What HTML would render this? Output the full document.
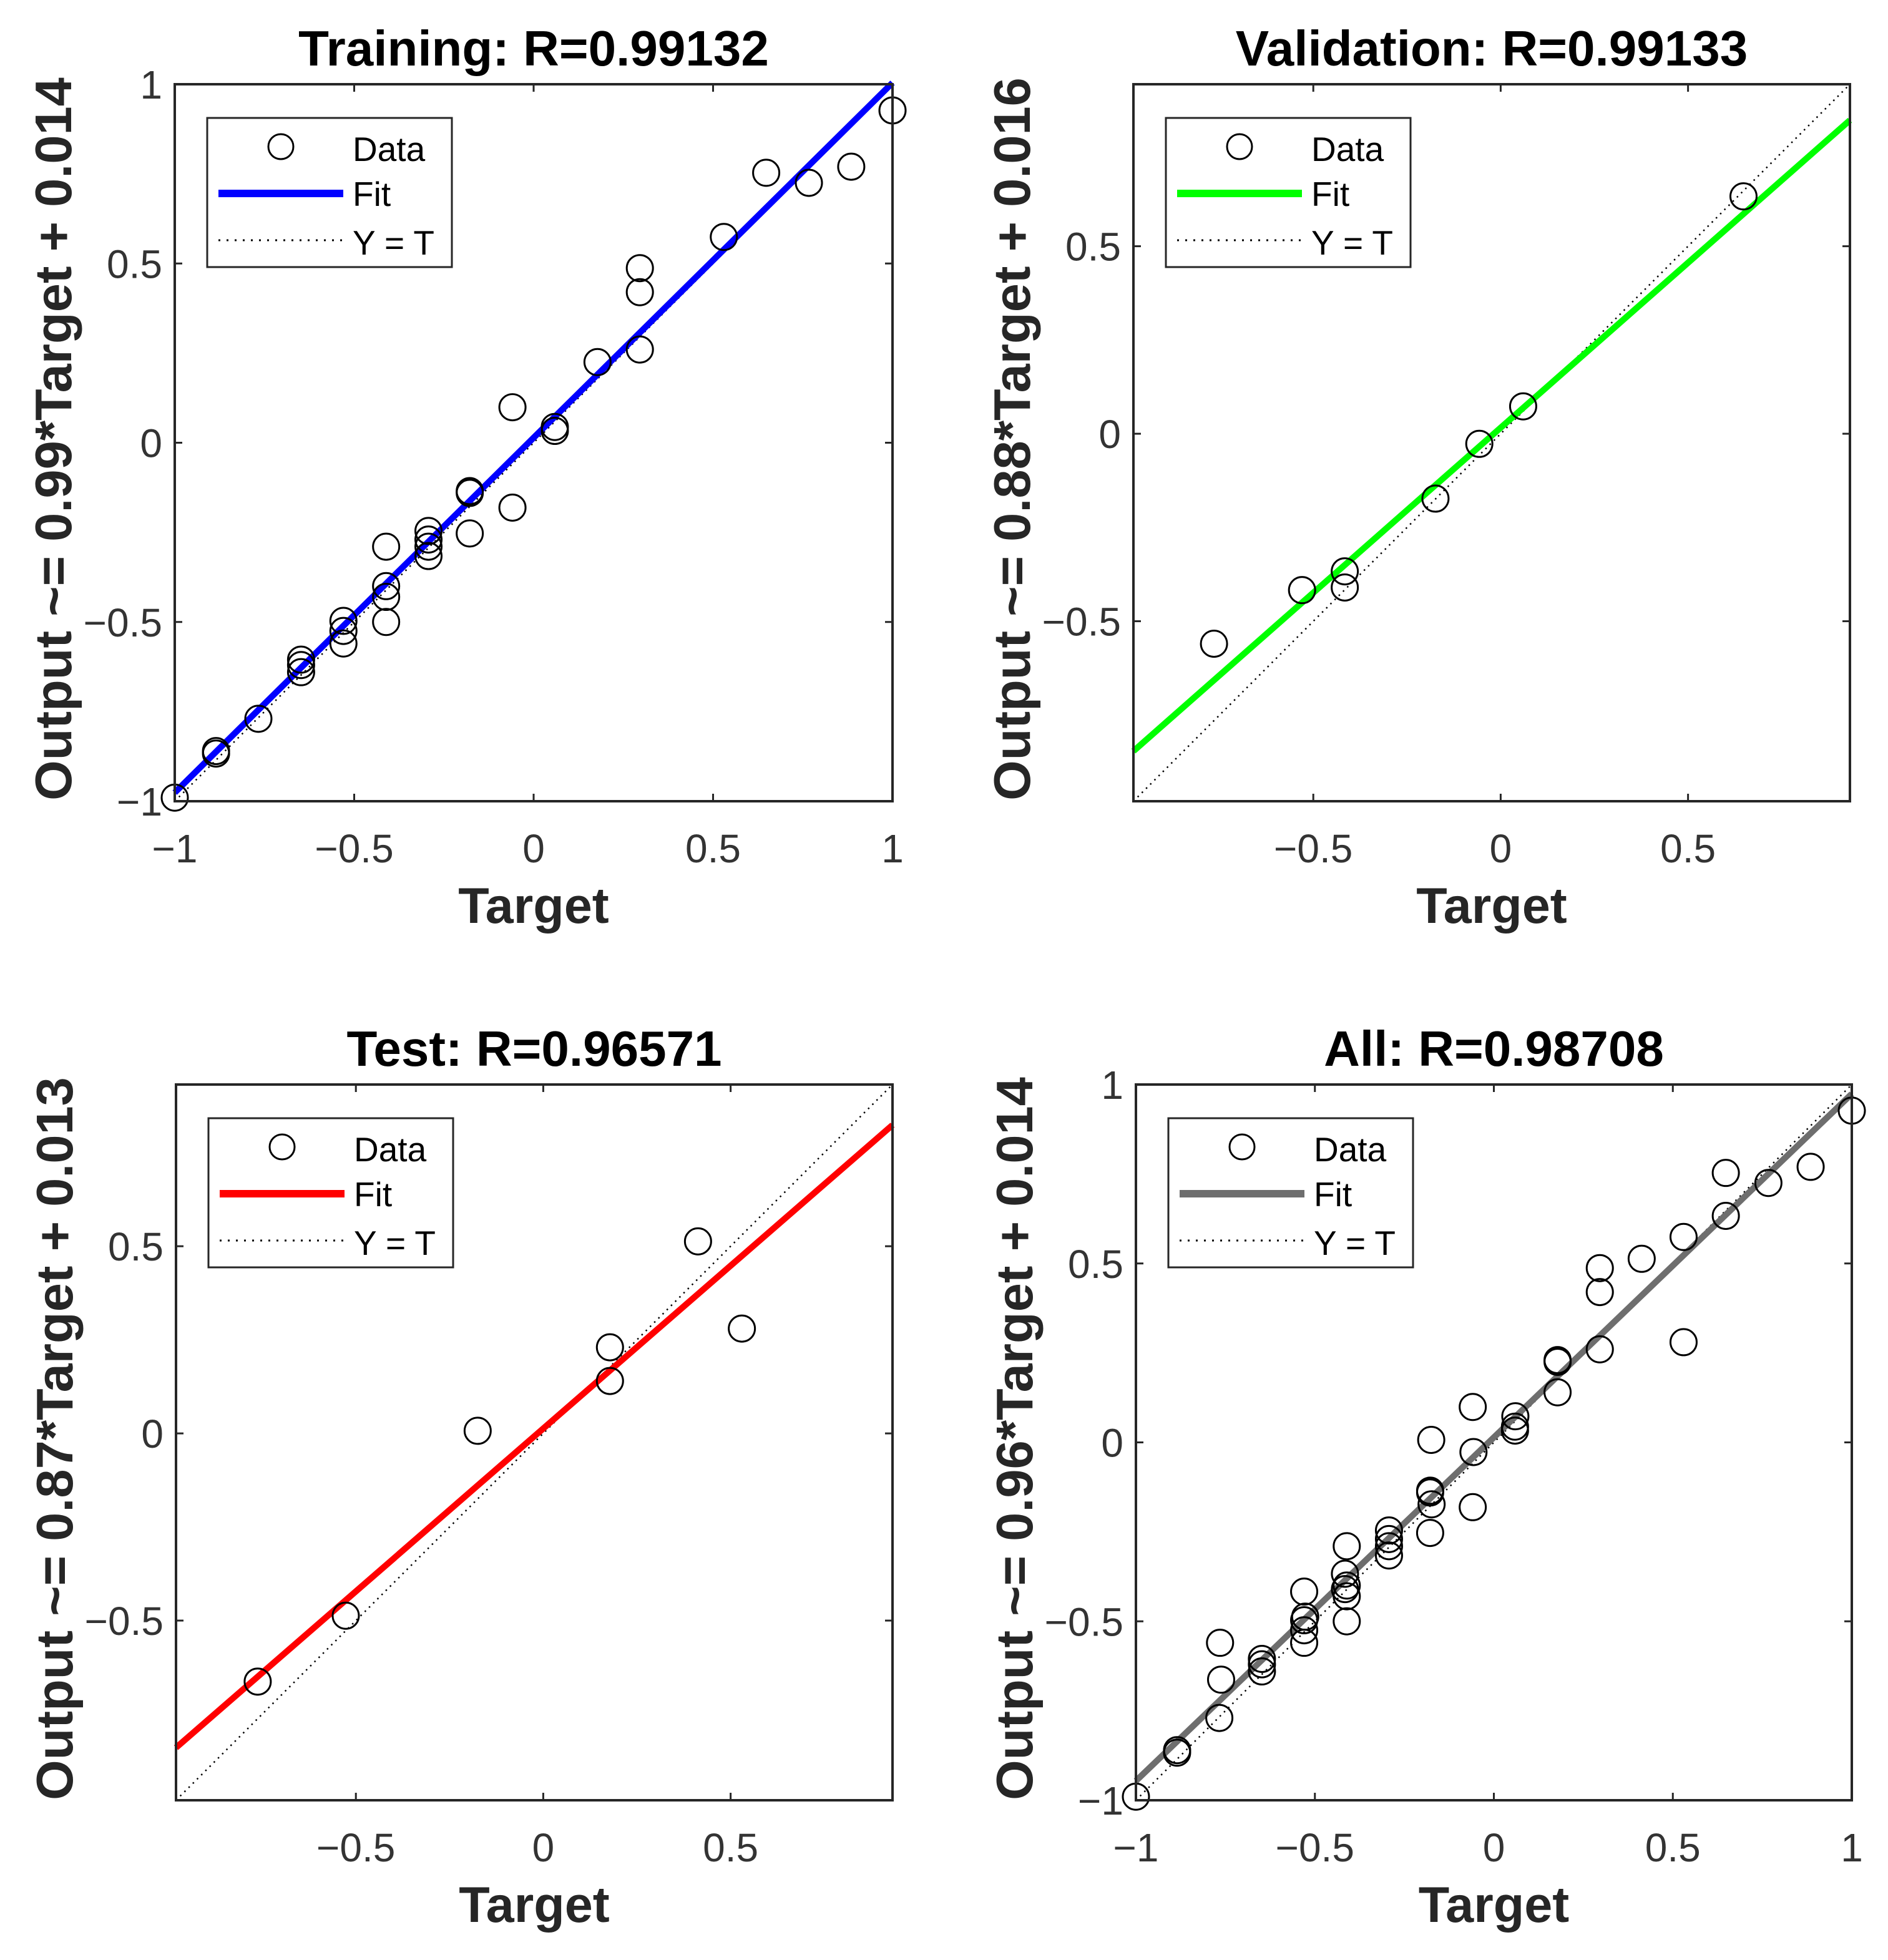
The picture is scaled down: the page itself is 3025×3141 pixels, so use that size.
<!DOCTYPE html>
<html><head><meta charset="utf-8"><style>
html,body{margin:0;padding:0;background:#fff;}
svg{display:block;font-family:"Liberation Sans",Arial,sans-serif;}
</style></head><body>
<svg id="fig" width="3025" height="3141" viewBox="0 0 3025 3141" xmlns="http://www.w3.org/2000/svg"></svg>
<script>
// Training data
const trainT = [-1,-0.885,-0.885,-0.767,-0.648,-0.648,-0.648,-0.53,-0.53,-0.53,-0.411,-0.411,-0.411,-0.411,-0.293,-0.293,-0.293,-0.293,-0.178,-0.178,-0.178,-0.059,-0.059,0.059,0.059,0.178,0.296,0.296,0.296,0.53,0.648,0.767,0.885,1];
const trainY = [-0.99,-0.86,-0.867,-0.77,-0.605,-0.62,-0.64,-0.497,-0.525,-0.56,-0.29,-0.40,-0.43,-0.50,-0.246,-0.27,-0.29,-0.316,-0.135,-0.14,-0.253,0.099,-0.181,0.044,0.033,0.225,0.487,0.42,0.26,0.574,0.753,0.725,0.77,0.927];
// Validation data
const valT = [-0.765,-0.53,-0.416,-0.416,-0.174,-0.057,0.06,0.648];
const valY = [-0.56,-0.417,-0.367,-0.41,-0.173,-0.027,0.073,0.633];
// Test data
const testT = [-0.762,-0.527,-0.175,0.178,0.178,0.413,0.53];
const testY = [-0.663,-0.487,0.007,0.23,0.14,0.513,0.28];
// All data
const allT = trainT.concat(valT, testT);
const allY = trainY.concat(valY, testY);
// Fit coefficients [slope, intercept]
const fitTrain = [0.99, 0.014];
const fitVal = [0.88, 0.016];
const fitTest = [0.87, 0.013];
const fitAll = [0.96, 0.014];
// Axis limits and ticks
const limFull = [-1, 1];
const limSub = [-0.98, 0.932];
const ticksFull = [-1, -0.5, 0, 0.5, 1];
const ticksSub = [-0.5, 0, 0.5];
const tickLabels = {"-1":"\u22121","-0.5":"\u22120.5","0":"0","0.5":"0.5","1":"1"};

const NS = "http://www.w3.org/2000/svg";
const fig = document.getElementById('fig');
function mk(tag, attrs, parent){
  const e = document.createElementNS(NS, tag);
  for (const k in attrs) e.setAttribute(k, attrs[k]);
  (parent||fig).appendChild(e);
  return e;
}

function panel(cfg){
  const g = mk('g', {});
  
  
  const L = cfg.box[0], T = cfg.box[1], R = cfg.box[2], B = cfg.box[3];
  const lim = cfg.lim;
  const sx = v => L + (v - lim[0]) / (lim[1] - lim[0]) * (R - L);
  const sy = v => B - (v - lim[0]) / (lim[1] - lim[0]) * (B - T);
  const cx = (L + R) / 2, cy = (T + B) / 2;

  mk('rect', {x:L, y:T, width:R-L, height:B-T, fill:'#fff'}, g);

  // ticks
  const tg = mk('g', {}, g);
  
  
  cfg.ticks.forEach(v => {
    const x = sx(v), y = sy(v);
    mk('line', {x1:x, y1:B, x2:x, y2:B-12, stroke:'#262626', 'stroke-width':3}, tg);
    mk('line', {x1:x, y1:T, x2:x, y2:T+12, stroke:'#262626', 'stroke-width':3}, tg);
    mk('line', {x1:L, y1:y, x2:L+12, y2:y, stroke:'#262626', 'stroke-width':3}, tg);
    mk('line', {x1:R, y1:y, x2:R-12, y2:y, stroke:'#262626', 'stroke-width':3}, tg);
    const xl = mk('text', {x:x, y:B+98, 'font-size':64, 'text-anchor':'middle', fill:'#333'}, tg);
    xl.textContent = tickLabels[String(v)];
    
    
    const yl = mk('text', {x:L-20, y:y+23, 'font-size':64, 'text-anchor':'end', fill:'#333'}, tg);
    yl.textContent = tickLabels[String(v)];
    
    
  });

  // Y = T dotted
  const yt = mk('line', {x1:sx(lim[0]), y1:sy(lim[0]), x2:sx(lim[1]), y2:sy(lim[1]), stroke:'#000', 'stroke-width':2.5, 'stroke-dasharray':'2.5 7'}, g);
  
  

  // fit line
  const f = cfg.fit;
  const fl = mk('line', {x1:sx(lim[0]), y1:sy(f[0]*lim[0]+f[1]), x2:sx(lim[1]), y2:sy(f[0]*lim[1]+f[1]), stroke:cfg.color, 'stroke-width':10}, g);
  
  

  // data points
  const pg = mk('g', {}, g);
  
  
  cfg.t.forEach((t, i) => {
    const c = mk('circle', {cx:sx(t), cy:sy(cfg.y[i]), r:21, fill:'none', stroke:'#000', 'stroke-width':3}, pg);
    
    
  });

  // axes box
  const ab = mk('rect', {x:L, y:T, width:R-L, height:B-T, fill:'none', stroke:'#262626', 'stroke-width':4}, g);
  
  

  // legend
  const lx = L + 52, ly = T + 54;
  const lg = mk('g', {}, g);
  
  
  mk('rect', {x:lx, y:ly, width:392, height:239, fill:'#fff', stroke:'#262626', 'stroke-width':3}, lg);
  mk('circle', {cx:lx+118, cy:ly+46, r:20, fill:'none', stroke:'#000', 'stroke-width':3}, lg);
  const t1 = mk('text', {x:lx+233, y:ly+69, 'font-size':55, fill:'#000'}, lg); t1.textContent = 'Data';
  
  
  mk('line', {x1:lx+18, y1:ly+121, x2:lx+218, y2:ly+121, stroke:cfg.color, 'stroke-width':12}, lg);
  const t2 = mk('text', {x:lx+233, y:ly+141, 'font-size':55, fill:'#000'}, lg); t2.textContent = 'Fit';
  
  
  mk('line', {x1:lx+18, y1:ly+196, x2:lx+220, y2:ly+196, stroke:'#000', 'stroke-width':3, 'stroke-dasharray':'3 10'}, lg);
  const t3 = mk('text', {x:lx+233, y:ly+219, 'font-size':55, fill:'#000'}, lg); t3.textContent = 'Y = T';
  
  

  // title
  const ti = mk('text', {x:cx, y:T-30, 'font-size':80, 'font-weight':'bold', 'text-anchor':'middle', fill:'#000'}, g);
  ti.textContent = cfg.title;
  
  
  // x label
  const xt = mk('text', {x:cx, y:B+195, 'font-size':81, 'font-weight':'bold', 'text-anchor':'middle', fill:'#262626'}, g);
  xt.textContent = 'Target';
  
  
  // y label
  const ytl = mk('text', {x:0, y:0, 'font-size':83, 'font-weight':'bold', 'text-anchor':'middle', fill:'#262626', transform:'translate(' + (L-166) + ',' + (cy-6) + ') rotate(-90)'}, g);
  ytl.textContent = cfg.ylabel;
  
  
}

panel({name:'training', box:[280,135,1430,1284], lim:limFull, ticks:ticksFull, t:trainT, y:trainY, fit:fitTrain, color:'#0000ff', title:'Training: R=0.99132', ylabel:'Output ~= 0.99*Target + 0.014'});
panel({name:'validation', box:[1816,135,2964,1284], lim:limSub, ticks:ticksSub, t:valT, y:valY, fit:fitVal, color:'#00ff00', title:'Validation: R=0.99133', ylabel:'Output ~= 0.88*Target + 0.016'});
panel({name:'test', box:[282,1738,1430,2885], lim:limSub, ticks:ticksSub, t:testT, y:testY, fit:fitTest, color:'#ff0000', title:'Test: R=0.96571', ylabel:'Output ~= 0.87*Target + 0.013'});
panel({name:'all', box:[1820,1738,2967,2885], lim:limFull, ticks:ticksFull, t:allT, y:allY, fit:fitAll, color:'#6e6e6e', title:'All: R=0.98708', ylabel:'Output ~= 0.96*Target + 0.014'});
</script>
</body></html>
